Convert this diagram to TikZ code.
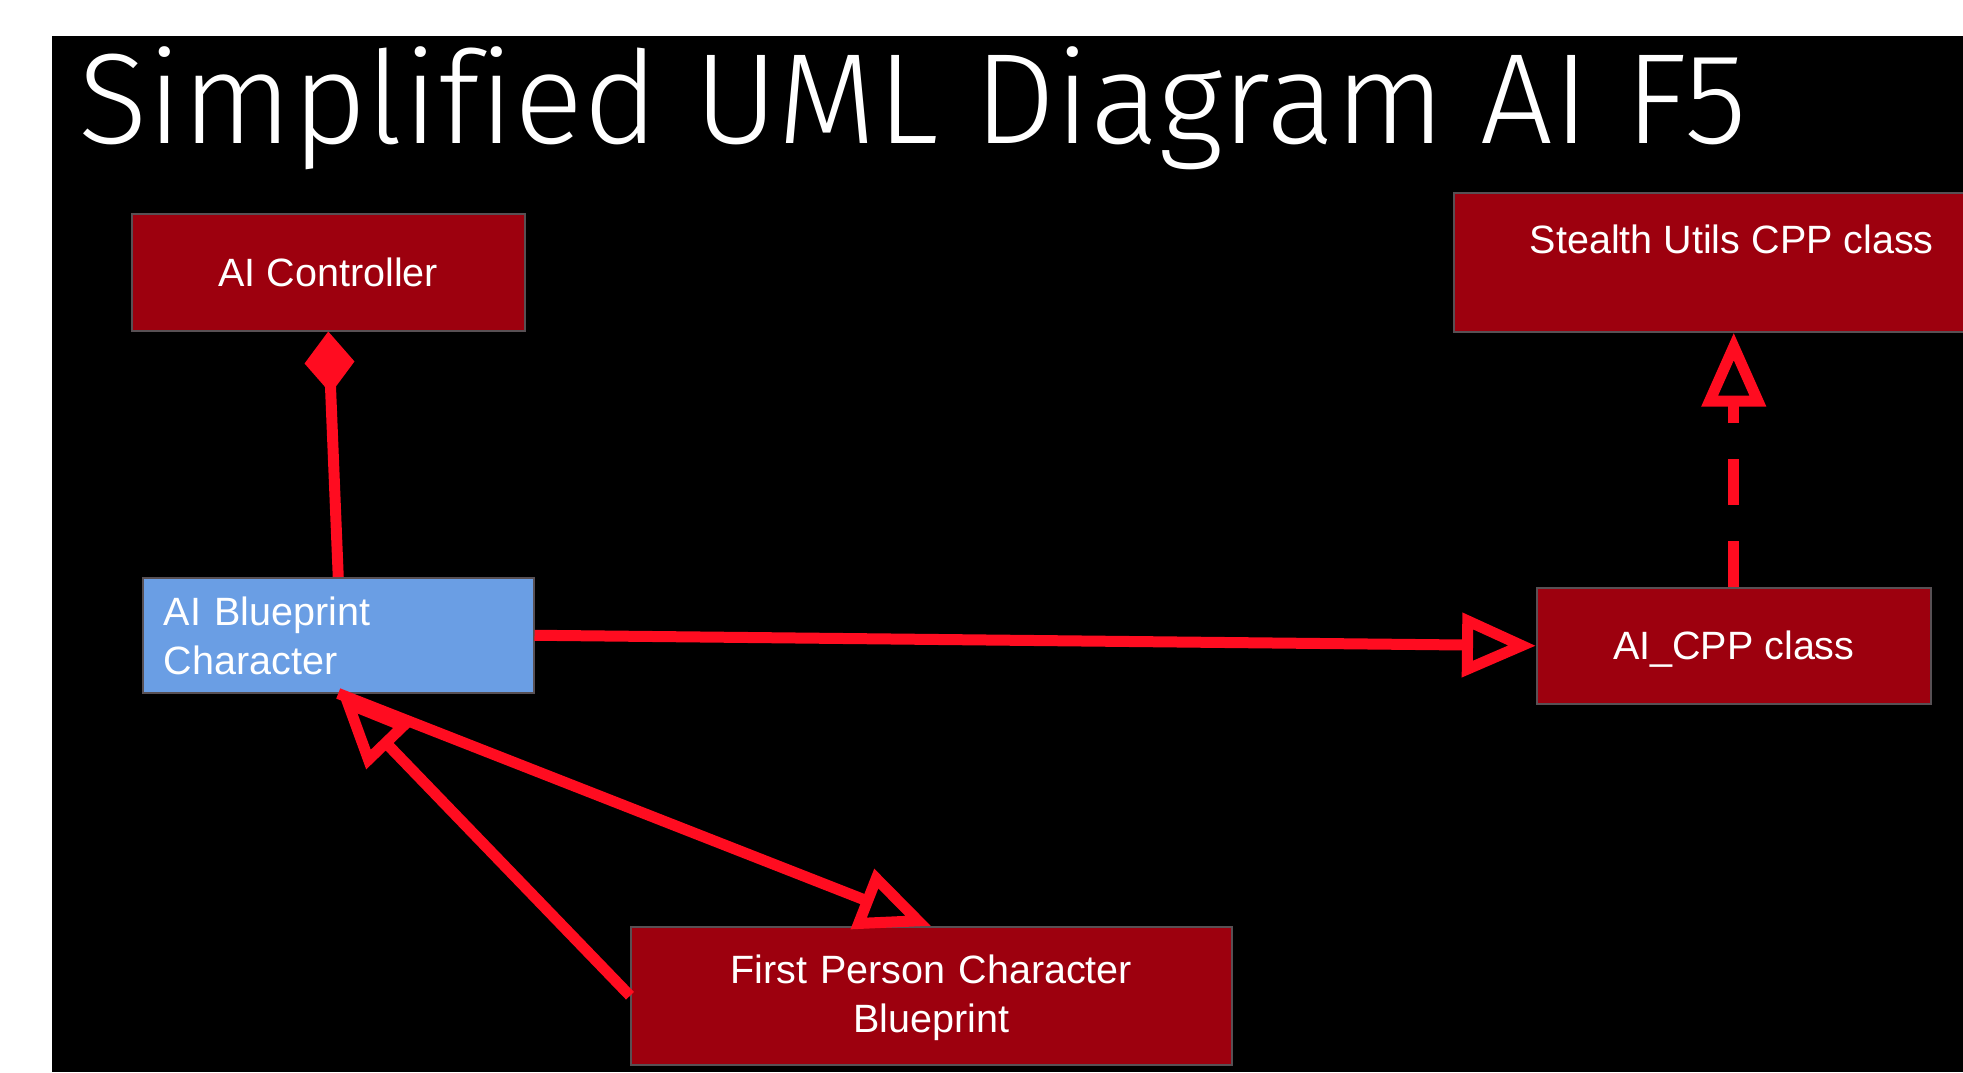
\documentclass[tikz,border=0pt]{standalone}
\usepackage{fontspec}
\setmainfont{Liberation Sans}
\newfontfamily\headingfont{Fira Sans Light}[Ligatures=NoCommon]
\usetikzlibrary{arrows.meta,calc}

\definecolor{classred}{RGB}{157,0,14}
\definecolor{bpblue}{RGB}{106,158,228}
\definecolor{linkred}{RGB}{255,12,32}
\definecolor{boxedge}{RGB}{88,80,84}

\begin{document}
\begin{tikzpicture}[x=0.5pt,y=-0.5pt,
  classbox/.style={draw=boxedge, line width=0.75pt, fill=classred, text=white,
    font=\fontsize{19.75}{24.25}\selectfont, inner ysep=0pt, inner xsep=0pt,
    anchor=north west, align=center},
  link/.style={draw=linkred, line width=5.5pt},
  hollowhead/.style={-{Triangle[open,length=37pt,width=31pt]}},
  filleddiamond/.style={-{Diamond[length=31pt,width=25pt]}}
]
% slide canvas
\useasboundingbox (0,0) rectangle (1963,1072);
\clip (0,0) rectangle (1963,1072);
\fill[white] (0,0) rectangle (1963,1072);
\fill[black] (52,36) rectangle (1963,1072);

% heading
\node[anchor=base west, inner sep=0pt, text=white,
      font=\headingfont\fontsize{64.3}{72}\selectfont] (title) at (78,143)
  {Simplified UML Diagram AI F5};

% classes
\node[classbox, minimum width=196.5pt, text height=36.5pt, text depth=22pt]
  (ctrl) at (131,213) {AI Controller};
\node[classbox, fill=bpblue, align=left, text width=174.5pt, inner xsep=10.5pt,
      text height=24pt, text depth=33.5pt]
  (blue) at (142,577) {AI Blueprint\\Character};
\node[classbox, minimum width=278pt, text height=30.5pt, text depth=39pt]
  (stealth) at (1453,192) {Stealth Utils CPP class};
\node[classbox, minimum width=197pt, text height=36pt, text depth=22pt]
  (cpp) at (1536,587) {AI\_CPP class};
\node[classbox, minimum width=300.5pt, text width=300.5pt,
      text height=28.5pt, text depth=40.5pt]
  (fp) at (630,926) {First Person Character\\Blueprint};

% relations
\draw[link, filleddiamond] (blue.north) -- (ctrl.south);
\draw[link, hollowhead] (blue.east) -- (cpp.west);
\draw[link, hollowhead, dash pattern=on 23pt off 18pt] (cpp.north) -- (cpp.north |- stealth.south);
\draw[link, hollowhead] (fp.west) -- (blue.south);
\draw[link, hollowhead] (blue.south) -- (fp.north);
\end{tikzpicture}
\end{document}
